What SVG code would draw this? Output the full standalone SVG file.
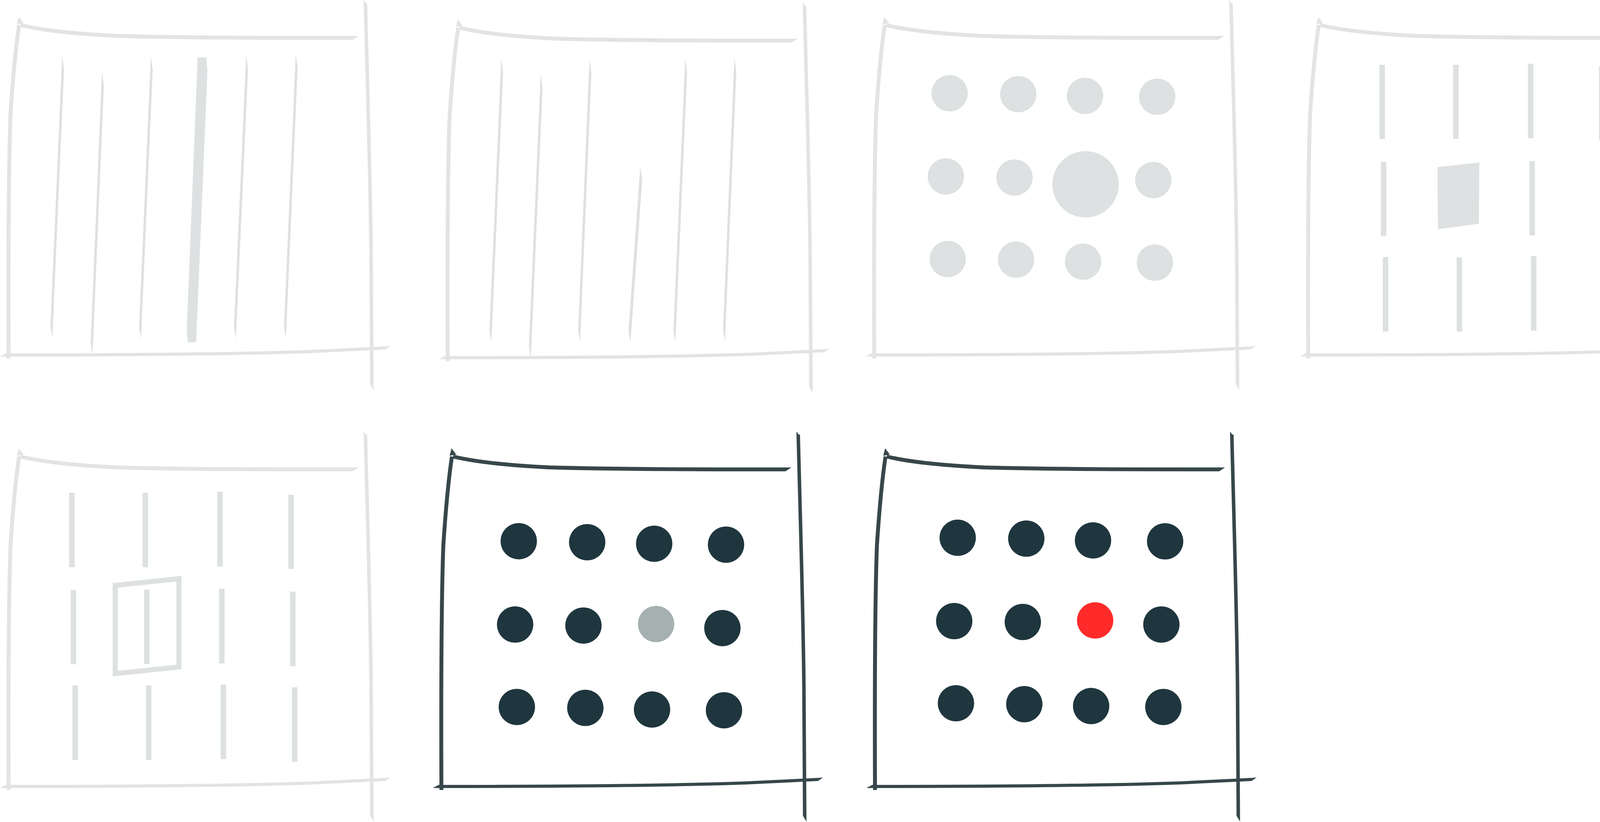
<svg xmlns="http://www.w3.org/2000/svg" width="4326" height="2105" viewBox="0 0 4326 2105">
<style>
.lf{color:#e2e3e4}
.df{color:#37474b}
.ln{fill:#dee1e1}
.bar{stroke:#dee1e1;stroke-width:14;fill:none}
.qd{stroke:#dee1e1;stroke-width:13;fill:none;stroke-linejoin:miter}
.dl{fill:#dee1e1}
.dd{fill:#1f363e}
.dm{fill:#a6b0b1}
.dr{fill:#ff2b2b}
</style>
<defs>
<g id="frame">
<g fill="none" stroke="currentColor" stroke-linecap="butt">
<path d="M49 64 C42 110 33 200 27 290 C22 420 21 650 22 918" stroke-width="10"/>
<path d="M52 64 C100 76 180 86 300 92 C480 97 700 97 903 97" stroke-width="10"/>
<path d="M935.5 8 C940 200 948 450 950 650 L952 984" stroke-width="9"/>
<path d="M14 909 C300 909 600 907 800 900 L986 891" stroke-width="8"/>
</g>
<g fill="currentColor">
<polygon points="43,62 48,43 60,59"/>
<polygon points="903,92 918,92 903,102"/>
<polygon points="931,0 940.5,13 931,13"/>
<polygon points="947.5,984 956.5,984 956.5,999"/>
<polygon points="0,913 15,905 15,913"/>
<polygon points="986,887 999,886 986,895"/>
</g>
</g>
</defs>

<g id="panel-1">
<use href="#frame" class="lf"/>
<polygon class="ln" points="159,143 164,178 134,867 129,837"/>
<polygon class="ln" points="261,183 266,218 237,909 232,879"/>
<polygon class="ln" points="386,144 391,179 361,868 356,838"/>
<polygon class="ln" points="506,147 528,147 531,182 502,876 481,877 478,848"/>
<polygon class="ln" points="630,142 635,177 604,867 599,837"/>
<polygon class="ln" points="757,139 762,174 732,867 727,837"/>
</g>

<g id="panel-2">
<use href="#frame" class="lf" transform="translate(1124 7)"/>
<polygon class="ln" points="1283,150 1288,185 1258,877 1253,847"/>
<polygon class="ln" points="1384,191 1389,226 1359,918 1354,888"/>
<polygon class="ln" points="1509,152 1514,187 1485,877 1480,847"/>
<polygon class="ln" points="1639,427 1644,462 1614,877 1609,847"/>
<polygon class="ln" points="1754,150 1759,185 1729,877 1724,847"/>
<polygon class="ln" points="1880,148 1885,183 1856,874 1851,844"/>
</g>

<g id="panel-3">
<use href="#frame" class="lf" transform="translate(2216 0)"/>
<circle class="dl" cx="2431" cy="238.8" r="46.5"/>
<circle class="dl" cx="2606.7" cy="241" r="46.5"/>
<circle class="dl" cx="2777.5" cy="245.5" r="46.5"/>
<circle class="dl" cx="2962.4" cy="247.8" r="46.5"/>
<circle class="dl" cx="2421.4" cy="451.8" r="46.5"/>
<circle class="dl" cx="2597" cy="454.7" r="46.5"/>
<circle class="dl" cx="2779" cy="472" r="85"/>
<circle class="dl" cx="2952.4" cy="461.1" r="46.5"/>
<circle class="dl" cx="2426.2" cy="663.3" r="46.5"/>
<circle class="dl" cx="2601.2" cy="664.9" r="46.5"/>
<circle class="dl" cx="2772.6" cy="670" r="46.5"/>
<circle class="dl" cx="2956.5" cy="672.5" r="46.5"/>
</g>

<g id="panel-4">
<use href="#frame" class="lf" transform="translate(3327 0)"/>
<line class="bar" x1="3538.5" y1="166" x2="3538.5" y2="356"/>
<line class="bar" x1="3727" y1="166" x2="3727" y2="356"/>
<line class="bar" x1="3918.5" y1="163" x2="3918.5" y2="354"/>
<line class="bar" x1="4100.4" y1="170" x2="4100.4" y2="360"/>
<line class="bar" x1="3542" y1="414.5" x2="3542" y2="604.6"/>
<polygon class="ln" points="3680,428 3787,416 3786,573 3681,587"/>
<line class="bar" x1="3922.4" y1="412.6" x2="3922.4" y2="602.7"/>
<line class="bar" x1="4104.3" y1="419" x2="4104.3" y2="609"/>
<line class="bar" x1="3547" y1="658" x2="3547" y2="849"/>
<line class="bar" x1="3736" y1="659" x2="3736" y2="849"/>
<line class="bar" x1="3926.3" y1="656" x2="3926.3" y2="847"/>
<line class="bar" x1="4109" y1="663" x2="4109" y2="853"/>
</g>

<g id="panel-5">
<use href="#frame" class="lf" transform="translate(0 1105)"/>
<line class="bar" x1="184" y1="1262" x2="184" y2="1452.5"/>
<line class="bar" x1="372" y1="1262" x2="372" y2="1452.5"/>
<line class="bar" x1="563.4" y1="1259" x2="563.4" y2="1450.6"/>
<line class="bar" x1="745.2" y1="1267" x2="745.2" y2="1457"/>
<line class="bar" x1="188" y1="1511" x2="188" y2="1701"/>
<line class="bar" x1="375.7" y1="1510" x2="375.7" y2="1700"/>
<line class="bar" x1="567.8" y1="1508" x2="567.8" y2="1699"/>
<line class="bar" x1="749.7" y1="1515" x2="749.7" y2="1706"/>
<line class="bar" x1="192.5" y1="1755" x2="192.5" y2="1946"/>
<line class="bar" x1="380.5" y1="1755" x2="380.5" y2="1946"/>
<line class="bar" x1="572" y1="1753" x2="572" y2="1944"/>
<line class="bar" x1="754.5" y1="1760" x2="754.5" y2="1951"/>
<path class="qd" d="M295 1499 L458 1482 L458 1708 L295 1725 Z"/>
</g>

<g id="panel-6">
<use href="#frame" class="df" transform="translate(1108 1105)"/>
<circle class="dd" cx="1328" cy="1385.9" r="46.5"/>
<circle class="dd" cx="1503.2" cy="1388.5" r="46.5"/>
<circle class="dd" cx="1674.7" cy="1392.4" r="46.5"/>
<circle class="dd" cx="1858.6" cy="1394.7" r="46.5"/>
<circle class="dd" cx="1318.7" cy="1599.3" r="46.5"/>
<circle class="dd" cx="1493.6" cy="1601.9" r="46.5"/>
<circle class="dm" cx="1679.6" cy="1598" r="46.5"/>
<circle class="dd" cx="1849.3" cy="1608.4" r="46.5"/>
<circle class="dd" cx="1323.1" cy="1810.4" r="46.5"/>
<circle class="dd" cx="1498.4" cy="1812.7" r="46.5"/>
<circle class="dd" cx="1669.2" cy="1816.9" r="46.5"/>
<circle class="dd" cx="1853.4" cy="1818.9" r="46.5"/>
</g>

<g id="panel-7">
<use href="#frame" class="df" transform="translate(2218 1105)"/>
<circle class="dd" cx="2451.7" cy="1377.1" r="46.5"/>
<circle class="dd" cx="2627.3" cy="1379.3" r="46.5"/>
<circle class="dd" cx="2798.1" cy="1383.9" r="46.5"/>
<circle class="dd" cx="2982.7" cy="1386.2" r="46.5"/>
<circle class="dd" cx="2442.8" cy="1590.5" r="46.5"/>
<circle class="dd" cx="2618.4" cy="1592.7" r="46.5"/>
<circle class="dr" cx="2803.6" cy="1588.8" r="46.5"/>
<circle class="dd" cx="2973.1" cy="1599.3" r="46.5"/>
<circle class="dd" cx="2447.2" cy="1800.9" r="46.5"/>
<circle class="dd" cx="2622.2" cy="1803.2" r="46.5"/>
<circle class="dd" cx="2793.3" cy="1808.1" r="46.5"/>
<circle class="dd" cx="2978.2" cy="1810.4" r="46.5"/>
</g>
</svg>
